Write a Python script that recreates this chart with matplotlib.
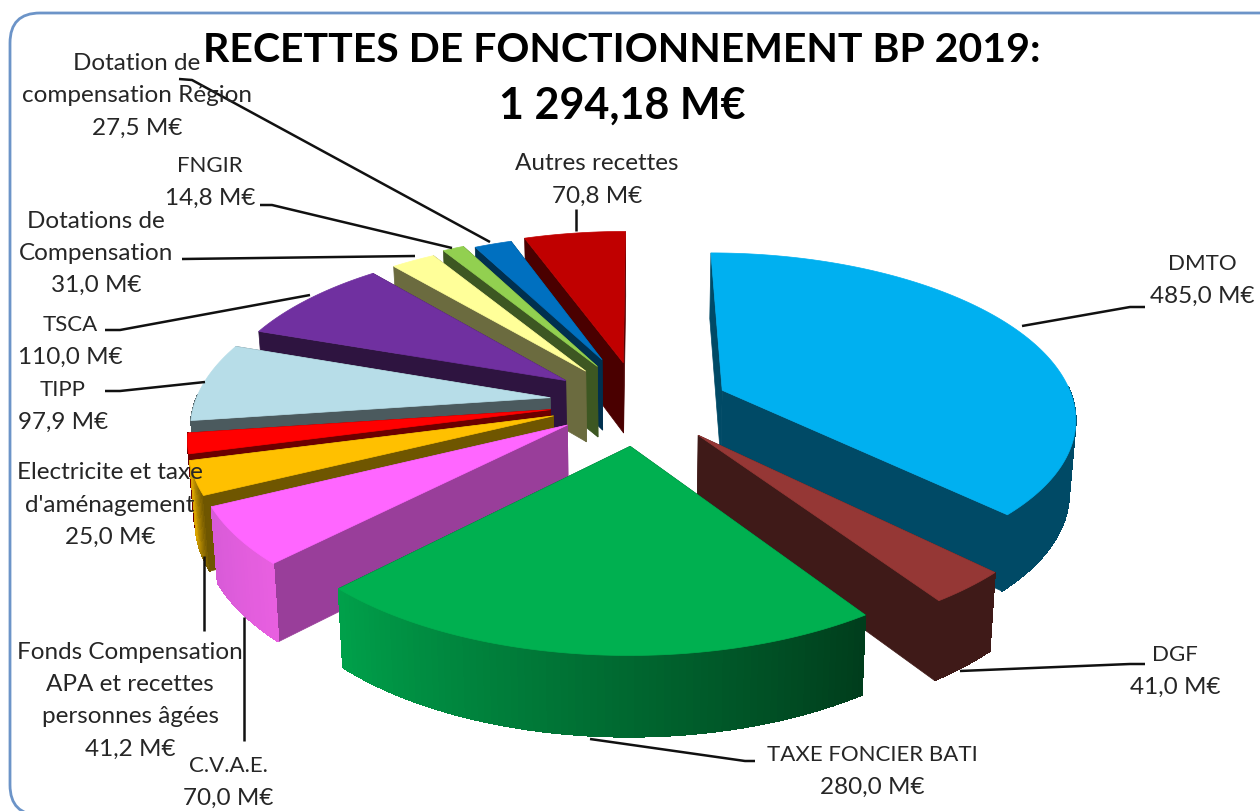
import numpy as np
import matplotlib
matplotlib.use("Agg")
import matplotlib.pyplot as plt
from matplotlib.patches import Polygon, FancyBboxPatch
from matplotlib.colors import to_rgb

plt.rcParams['font.family'] = ['Lato', 'DejaVu Sans']

# ---------------------------------------------------------------
# Data (M EUR), clockwise from 12 o'clock.
# ---------------------------------------------------------------
names = [["DMTO"], ["DGF"], ["TAXE FONCIER BATI"], ["C.V.A.E."],
         ["Fonds Compensation", "APA et recettes", "personnes âgées"],
         ["Electricite et taxe", "d'aménagement"], ["TIPP"], ["TSCA"],
         ["Dotations de", "Compensation"], ["FNGIR"],
         ["Dotation de", "compensation Région"], ["Autres recettes"]]
values = [485.0, 41.0, 280.0, 70.0, 41.2, 25.0, 97.9, 110.0, 31.0, 14.8, 27.5, 70.8]

# ---------------------------------------------------------------
# Style of each slice.
# ---------------------------------------------------------------
explode = [0.265, 0.25, 0.20, 0.20, 0.20, 0.20, 0.20, 0.22, 0.25, 0.26, 0.28, 0.28]
radius = [0.975, 0.975, 0.99, 0.99, 0.98, 0.98, 0.98, 0.97, 0.97, 0.98, 0.92, 0.98]
nudge_x = [0, 4, 2, -8, -13, -13, -13, -5, 2, 7, 6, 5]
nudge_y = [-2, -7, 3, -4, -5, -6, -8, -8, -5, -6, -8, -2]
top_col = ['#00B0F0', '#953735', '#00B050', '#FF66FF', '#FFC000', '#FF0000',
           '#B7DDE8', '#7030A0', '#FFFF99', '#92D050', '#0070C0', '#C00000']
side_col = ['#004A66', '#3F1A18', '#003D1C', '#993E9A', '#6F5600', '#6B0000',
            '#4B5A5E', '#2E1440', '#6B6B3F', '#3D5722', '#00304F', '#4A0000']
arc_start = ['#004A66', '#3F1A18', '#003D1C', '#E85FE0', '#6F5600', '#6B0000',
             '#4B5A5E', '#2E1440', '#6B6B3F', '#3D5722', '#00304F', '#4A0000']
arc_end = ['#004A66', '#3F1A18', '#00A04A', '#D85BD8', '#D9A300', '#6B0000',
           '#4B5A5E', '#2E1440', '#6B6B3F', '#3D5722', '#00304F', '#4A0000']
draw_order = [11, 10, 9, 8, 7, 6, 5, 4, 3, 0, 1, 2]

# where the texts sit: centre x, y of first line
label_pos = [(1202, 264), (1175, 655), (872, 755), (228, 766), (130, 653), (110, 473),
             (63, 390), (70, 325), (96, 221), (210, 166), (137, 64), (597, 164)]
leaders = [[(1145, 308), (1130, 308), (1022, 327)],
           [(1145, 665), (1130, 665), (960, 672)],
           [(755, 762), (745, 762), (590, 740)],
           [(244, 742), (244, 618)],
           [(204, 632), (204, 557)],
           [],
           [(105, 392), (120, 392), (205, 383)],
           [(105, 331), (120, 331), (310, 296)],
           [(182, 260), (415, 257)],
           [(260, 206), (272, 206), (452, 249)],
           [(179, 80), (192, 81), (490, 243)],
           [(576, 210), (576, 232)]]

# ---------------------------------------------------------------
# Projection of the pie disk onto the picture.
# ---------------------------------------------------------------
cx, cy = 635, 410   # centre of the top surface
a, b = 362, 167     # radii
p = 0.155           # perspective
depth = 72          # height of the pie
squeeze = 0.015     # bottom edge leans towards the middle


def project(u, v, low=False):
    s = 1 / (1 + p * v)
    x = cx + a * u * s
    y = cy - b * v * s
    if low:
        y = y + depth * s ** 0.6
        x = x - (x - cx) * squeeze
    return x, y


fig = plt.figure(figsize=(12.6, 8.12), dpi=100)
ax = fig.add_axes([0, 0, 1, 1])
ax.set_xlim(0, 1260)
ax.set_ylim(812, 0)
ax.axis('off')

ax.add_patch(FancyBboxPatch((10, 14), 1300, 802, boxstyle="round,pad=0,rounding_size=30",
                            fc='white', ec='#6C94C8', lw=2))

# ---------------------------------------------------------------
# Slices, back to front.
# ---------------------------------------------------------------
angles = np.cumsum([0] + values) / sum(values) * 2 * np.pi

for i in draw_order:
    th = np.linspace(angles[i], angles[i + 1], max(int((angles[i + 1] - angles[i]) * 60), 4))
    mid = (angles[i] + angles[i + 1]) / 2
    ou, ov = explode[i] * np.sin(mid), explode[i] * np.cos(mid)
    u = ou + radius[i] * np.sin(th)
    v = ov + radius[i] * np.cos(th)

    x0, y0 = project(ou, ov)
    x0l, y0l = project(ou, ov, low=True)
    xt, yt = project(u, v)
    xl, yl = project(u, v, low=True)
    x0, x0l, xt, xl = x0 + nudge_x[i], x0l + nudge_x[i], xt + nudge_x[i], xl + nudge_x[i]
    y0, y0l, yt, yl = y0 + nudge_y[i], y0l + nudge_y[i], yt + nudge_y[i], yl + nudge_y[i]

    # the two cut faces
    for k in (0, -1):
        ax.add_patch(Polygon([(x0, y0), (xt[k], yt[k]), (xl[k], yl[k]), (x0l, y0l)],
                             fc=side_col[i], ec=side_col[i], lw=0.5))

    # outer rim, only where it looks towards us
    front = np.cos(th) <= 0.03
    if front.sum() > 1:
        c0, c1 = np.array(to_rgb(arc_start[i])), np.array(to_rgb(arc_end[i]))
        ax.add_patch(Polygon(np.column_stack([np.r_[xt[front], xl[front][::-1]],
                                              np.r_[yt[front], yl[front][::-1]]]),
                             fc=(c0 + c1) / 2, ec='none'))
        for k in range(len(th) - 1):
            if not (front[k] and front[k + 1]):
                continue
            col = c0 + (c1 - c0) * k / max(len(th) - 2, 1)
            ax.add_patch(Polygon([(xt[k], yt[k]), (xt[k + 1], yt[k + 1]),
                                  (xl[k + 1], yl[k + 1]), (xl[k], yl[k])],
                                 fc=col, ec=col, lw=0.5, antialiased=False))

    ax.add_patch(Polygon(np.column_stack([np.r_[x0, xt], np.r_[y0, yt]]),
                         fc=top_col[i], ec=top_col[i], lw=0.5))

# ---------------------------------------------------------------
# Leader lines and labels.
# ---------------------------------------------------------------
for pts in leaders:
    if pts:
        ax.plot(*zip(*pts), color='#111111', lw=1.8, solid_capstyle='butt')

for lines, val, (lx, ly) in zip(names, values, label_pos):
    txt = lines + [f"{val:.1f}".replace('.', ',') + " M€"]
    for k, line in enumerate(txt):
        size = 16 if (k < len(lines) and line.isupper()) else 17.5
        ax.text(lx, ly + k * 32, line, ha='center', va='center', fontsize=size, color='#262626')

ax.text(622, 50, "RECETTES DE FONCTIONNEMENT BP 2019:", ha='center', va='center',
        fontsize=29.5, fontweight='bold', color='black')
ax.text(622, 106, "1 294,18 M€", ha='center', va='center',
        fontsize=31, fontweight='bold', color='black')

fig.savefig("out.png", dpi=100)
